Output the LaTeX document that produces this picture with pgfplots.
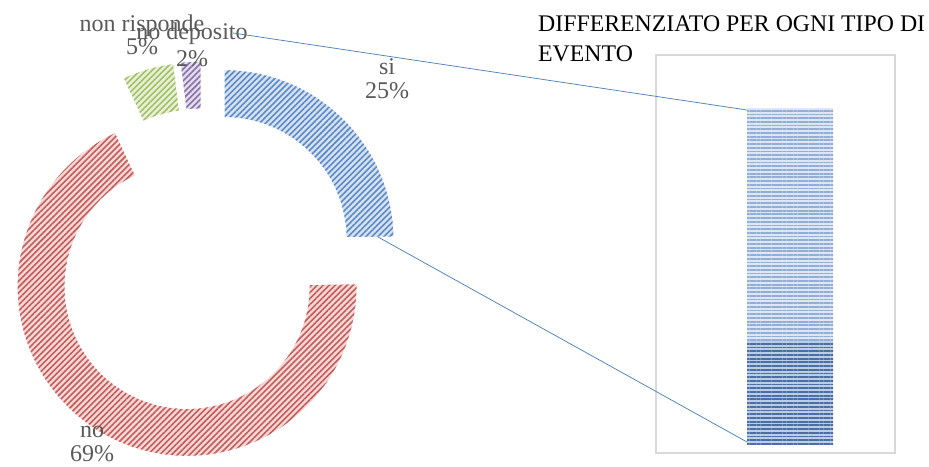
\documentclass[border=0pt]{standalone}
\usepackage{pgfplots}
\pgfplotsset{compat=1.18}
\usetikzlibrary{patterns.meta}
\usepackage{fontspec}
\setmainfont{Liberation Serif}
\newfontfamily\calibri{Carlito}

\definecolor{labgray}{HTML}{595959}
\definecolor{boxgray}{HTML}{D9D9D9}
\definecolor{linkblue}{HTML}{4F81BD}
\definecolor{siS}{HTML}{5B8AC6}\definecolor{siB}{HTML}{D6E1F1}
\definecolor{noS}{HTML}{C65C59}\definecolor{noB}{HTML}{F2D9D8}
\definecolor{nrS}{HTML}{A2C163}\definecolor{nrB}{HTML}{E8F0DA}
\definecolor{ndS}{HTML}{8A70AB}\definecolor{ndB}{HTML}{E3DCEC}
\definecolor{topS}{HTML}{93AED6}\definecolor{topB}{HTML}{DDE6F3}
\definecolor{botS}{HTML}{4A6FA5}\definecolor{botB}{HTML}{BCCDE6}

% pie values (percent)
\def\vSi{25}\def\vNo{69}\def\vNr{5}\def\vNd{2}
% donut geometry (pt): base centre, radii, explosion
\def\cx{203}\def\cy{205}\def\Rout{170}\def\Rin{122}\def\expl{30}

% #1 start angle, #2 end angle, #3 background, #4 stripe colour
\newcommand\donutwedge[4]{%
  \pgfmathsetmacro\wm{(#1+#2)/2}%
  \pgfmathsetmacro\wx{\cx+\expl*cos(\wm)}%
  \pgfmathsetmacro\wy{\cy+\expl*sin(\wm)}%
  \path[preaction={fill=#3},
        pattern={Lines[angle=45,distance=4.2pt,line width=1.6pt]},
        pattern color=#4, draw=white, line width=1pt]
    ([shift={(#1:\Rout pt)}]axis cs:\wx,\wy)
      arc[start angle=#1, end angle=#2, radius=\Rout pt]
    -- ([shift={(#2:\Rin pt)}]axis cs:\wx,\wy)
      arc[start angle=#2, end angle=#1, radius=\Rin pt] -- cycle;
}

\begin{document}
\begin{tikzpicture}
\useasboundingbox (0,0) rectangle (929pt,466pt);

\pgfmathsetmacro\vT{\vSi+\vNo+\vNr+\vNd}
\pgfmathsetmacro\dg{360/\vT}
\pgfmathsetmacro\aA{90}
\pgfmathsetmacro\aB{\aA-\dg*\vSi}
\pgfmathsetmacro\aC{\aB-\dg*\vNo}
\pgfmathsetmacro\aD{\aC-\dg*\vNr}
\pgfmathsetmacro\aE{\aD-\dg*\vNd}

% donut
\begin{axis}[at={(0pt,0pt)}, anchor=south west, x=1pt, y=1pt,
  xmin=0, xmax=929, ymin=0, ymax=466, hide axis, clip=false]
\pgfplotsextra{%
  \donutwedge{\aA}{\aB}{siB}{siS}%
  \donutwedge{\aB}{\aC}{noB}{noS}%
  \donutwedge{\aC}{\aD}{nrB}{nrS}%
  \donutwedge{\aD}{\aE}{ndB}{ndS}%
}
\begin{scope}[every node/.style={text=labgray, font=\fontsize{24}{24}\selectfont, anchor=base, inner sep=0pt}]
\node at (axis cs:387,391) {si};
\node at (axis cs:387,367) {25\%};
\node at (axis cs:92,29) {no};
\node at (axis cs:92,5) {69\%};
\node at (axis cs:142,434) {non risponde};
\node at (axis cs:142,411) {5\%};
\node at (axis cs:192,426) {no deposito};
\node at (axis cs:192,399) {2\%};
\end{scope}
\end{axis}

% secondary bar
\begin{axis}[at={(656pt,13pt)}, anchor=south west, width=239pt, height=398pt,
  scale only axis, xmin=0, xmax=1, ymin=-0.31, ymax=15.06,
  ybar stacked, bar width=86pt, xtick=\empty, ytick=\empty,
  axis line style={draw=boxgray, line width=1.2pt}, clip=false]
\addplot[draw=none, preaction={fill=botB},
  pattern={Lines[angle=0,distance=3.7pt,line width=1.8pt]}, pattern color=botS]
  coordinates {(0.561,4)};
\addplot[draw=none, preaction={fill=topB},
  pattern={Lines[angle=0,distance=3.7pt,line width=1.8pt]}, pattern color=topS]
  coordinates {(0.561,9)};
\node[text=labgray, font=\calibri\fontsize{24}{24}\selectfont] at (axis cs:0.561,2.05) {4};
\node[text=labgray, font=\calibri\fontsize{24}{24}\selectfont] at (axis cs:0.561,8.4) {9};
\end{axis}

% title
\node[anchor=base west, inner sep=0pt, font=\fontsize{23.8}{24}\selectfont] at (538pt,434pt) {DIFFERENZIATO PER OGNI TIPO DI};
\node[anchor=base west, inner sep=0pt, font=\fontsize{23.8}{24}\selectfont] at (538pt,404pt) {EVENTO};

% connector lines
\draw[linkblue, line width=0.75pt] (233pt,433pt) -- (747pt,356pt);
\draw[linkblue, line width=0.75pt] (378pt,229pt) -- (747pt,24pt);
\end{tikzpicture}
\end{document}
